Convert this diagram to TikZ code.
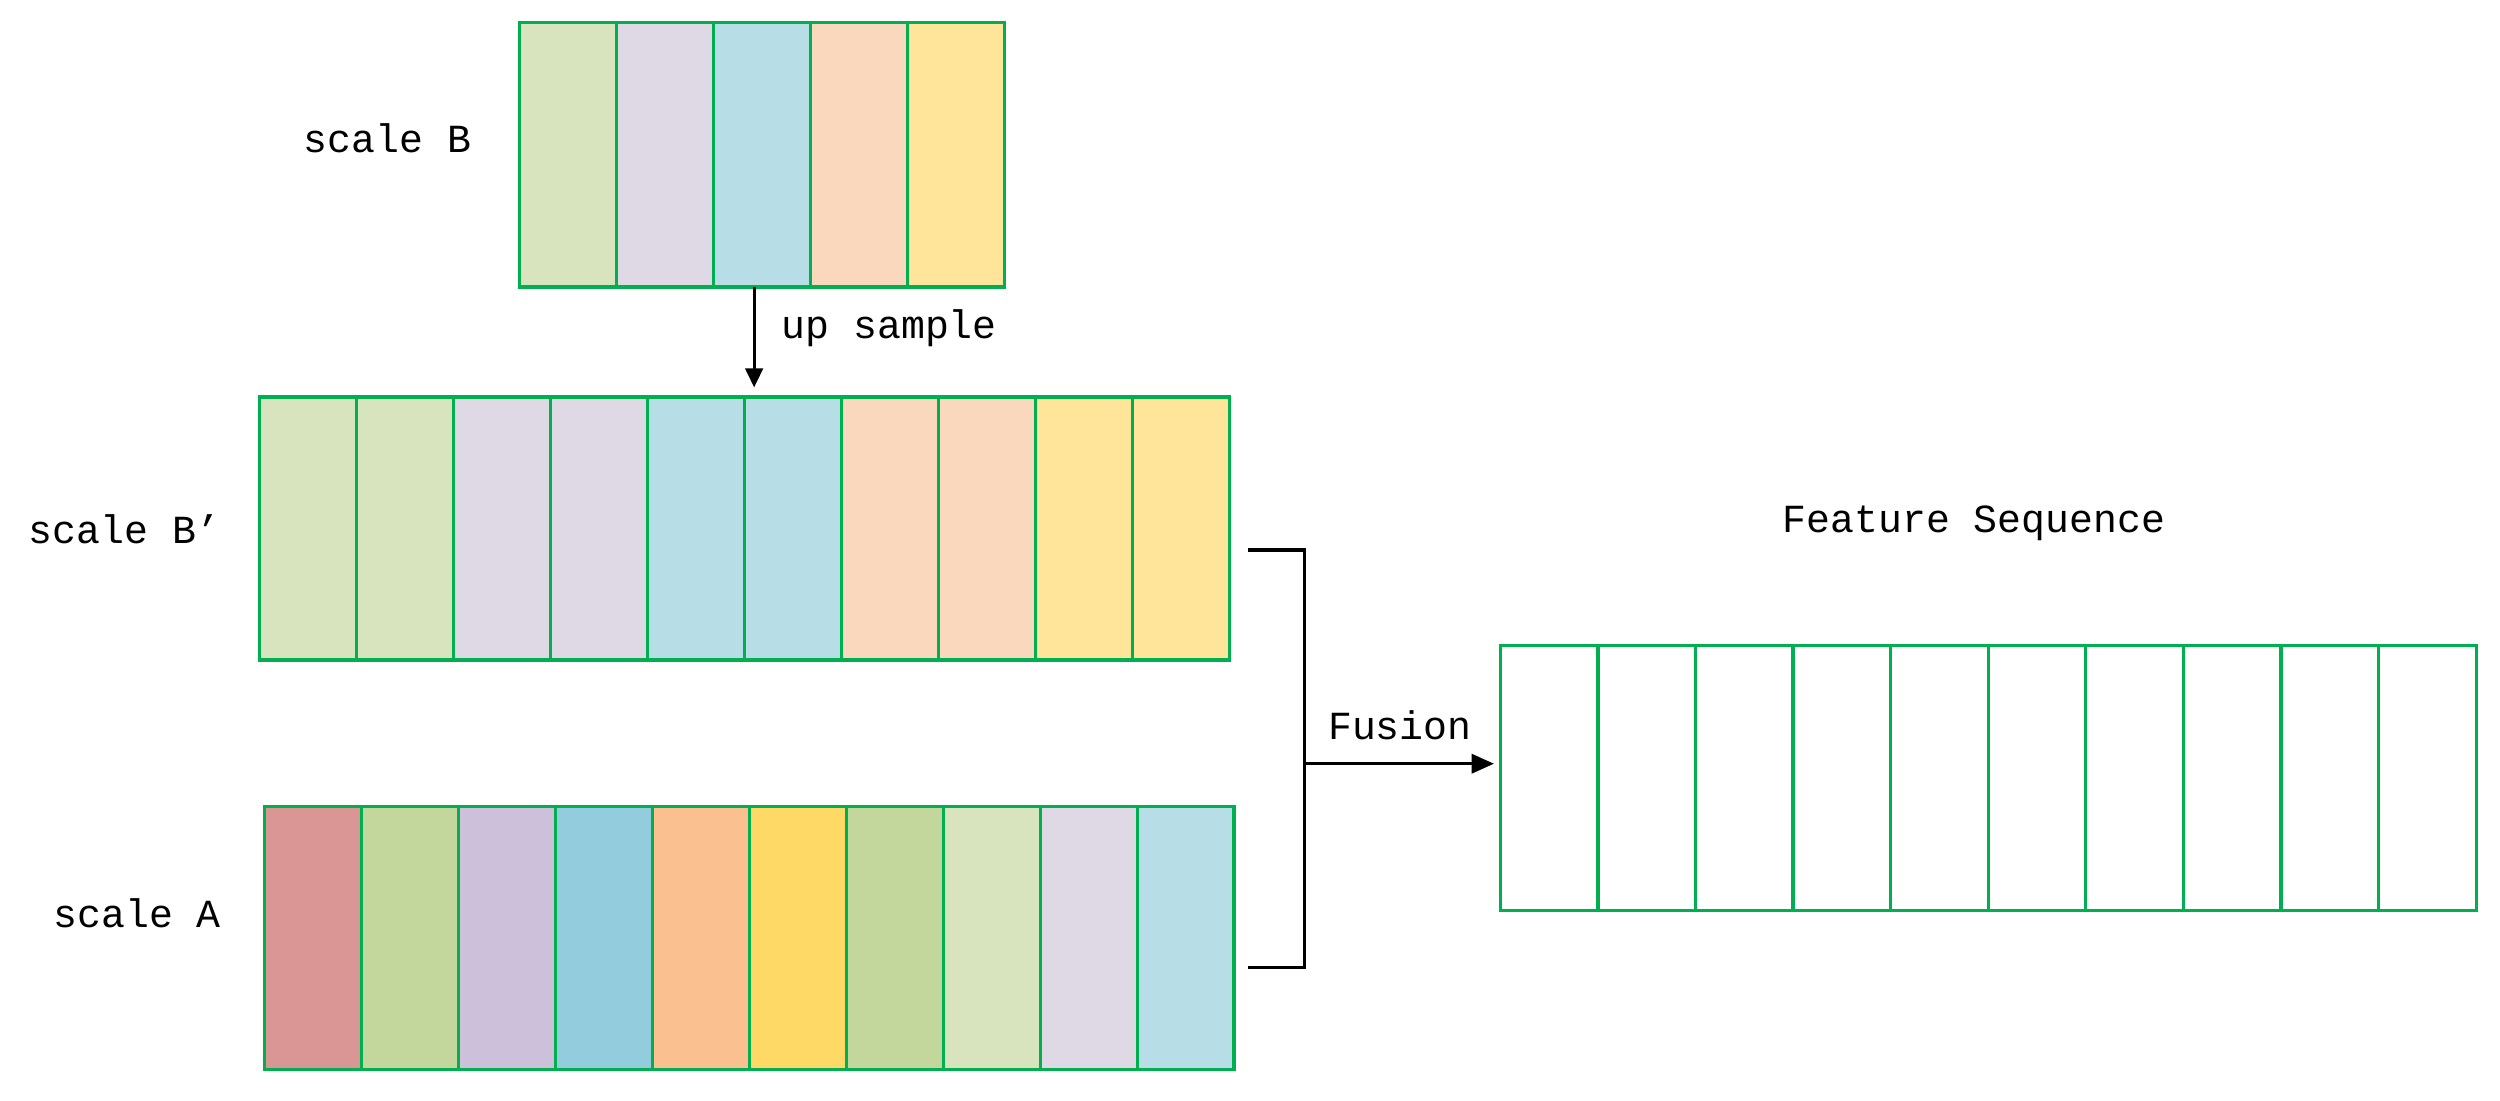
\documentclass[tikz,border=0pt]{standalone}
\usepackage{fontspec}
\setmainfont{Liberation Mono}
\usetikzlibrary{arrows.meta}
\definecolor{bd}{HTML}{00B050}
\definecolor{gA}{HTML}{D8E4BE}
\definecolor{pA}{HTML}{DFD9E6}
\definecolor{bA}{HTML}{B7DEE6}
\definecolor{oA}{HTML}{FAD8BE}
\definecolor{yA}{HTML}{FFE599}
\definecolor{r2}{HTML}{D99694}
\definecolor{g2}{HTML}{C3D69B}
\definecolor{p2}{HTML}{CCC0DA}
\definecolor{b2}{HTML}{93CDDD}
\definecolor{o2}{HTML}{FAC090}
\definecolor{y2}{HTML}{FFD966}
\tikzset{cell/.style={draw=bd,line width=2pt},
 lbl/.style={font=\fontsize{25}{30}\selectfont,inner sep=0pt},
 conn/.style={line width=2pt}}
\begin{document}
\begin{tikzpicture}[x=1pt,y=-1pt]
\useasboundingbox (0,0) rectangle (1568,690);
% scale B
\foreach \c [count=\i from 0] in {gA,pA,bA,oA,yA}
  \filldraw[cell,fill=\c] (326+60.8*\i,14) rectangle ++(60.8,166);
\node[lbl] (lB) at (243,87) {scale B};
% scale B'
\foreach \c [count=\i from 0] in {gA,gA,pA,pA,bA,bA,oA,oA,yA,yA}
  \filldraw[cell,fill=\c] (163+60.8*\i,249) rectangle ++(60.8,165);
\node[lbl] (lBp) at (78,332) {scale B’};
% scale A
\foreach \c [count=\i from 0] in {r2,g2,p2,b2,o2,y2,g2,gA,pA,bA}
  \filldraw[cell,fill=\c] (166+60.8*\i,506) rectangle ++(60.8,165);
\node[lbl] (lA) at (86,573) {scale A};
% feature
\foreach \i in {0,...,9}
  \draw[cell] (941+61.2*\i,405) rectangle ++(61.2,166);
\node[lbl] (lF) at (1238,328) {Feature Sequence};
% arrows
\coordinate (u1) at (473,180);
\coordinate (u2) at (473,243);
\draw[conn,-{Triangle[length=12pt,width=11pt]}] (u1) -- (u2);
\node[lbl,anchor=west] (us) at (490,206) {up sample};
\coordinate (b1) at (783,345);
\coordinate (b2) at (818,345);
\coordinate (b3) at (818,607);
\coordinate (b4) at (783,607);
\draw[conn] (b1) -- (b2) -- (b3) -- (b4);
\coordinate (f1) at (818,479);
\coordinate (f2) at (937,479);
\draw[conn,-{Triangle[length=14pt,width=12pt]}] (f1) -- (f2);
\node[lbl] (fu) at (878,455) {Fusion};
\end{tikzpicture}
\end{document}
